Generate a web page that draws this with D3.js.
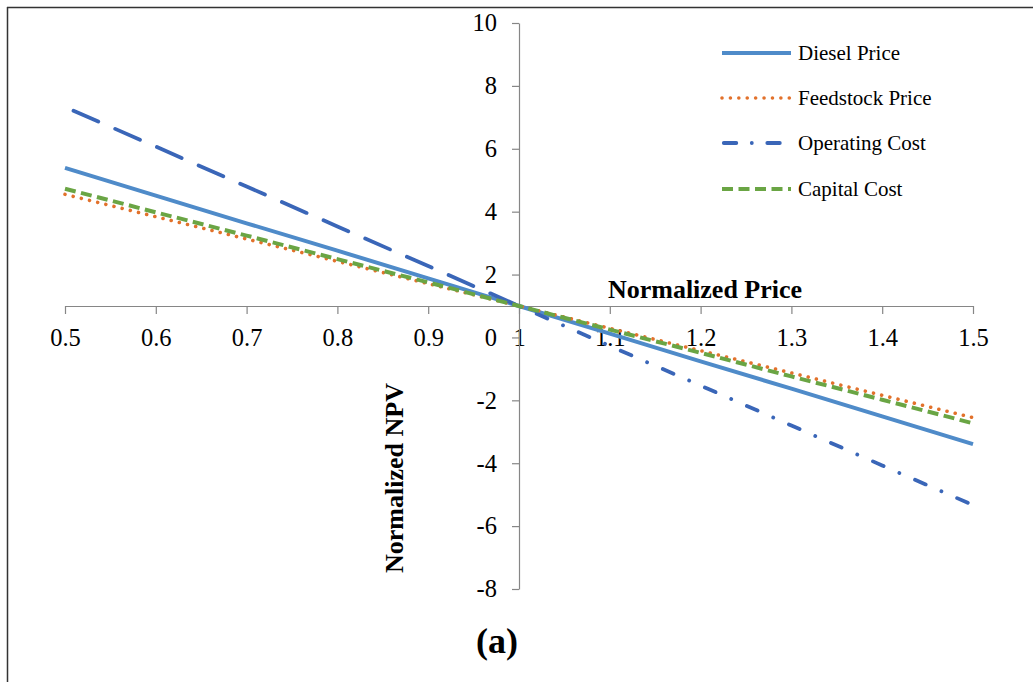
<!DOCTYPE html>
<html>
<head>
<meta charset="utf-8">
<script src="https://cdn.jsdelivr.net/npm/d3@7"></script>
<style>
  html, body { margin: 0; padding: 0; background: #fff; }
  svg { display: block; }
  text { font-family: "Liberation Serif", "Times New Roman", serif; fill: #000; }
</style>
</head>
<body>
<script>
// ---- data ----
const xValues = [0.5, 0.6, 0.7, 0.8, 0.9, 1.0, 1.1, 1.2, 1.3, 1.4, 1.5];
const xTickLabels = ["0.5", "0.6", "0.7", "0.8", "0.9", "1", "1.1", "1.2", "1.3", "1.4", "1.5"];
const yTickValues = [-8, -6, -4, -2, 0, 2, 4, 6, 8, 10];
const yTickLabels = ["-8", "-6", "-4", "-2", "0", "2", "4", "6", "8", "10"];
const seriesNames = ["Diesel Price", "Feedstock Price", "Operating Cost", "Capital Cost"];
const dieselPrice    = [5.39, 4.51, 3.63, 2.76, 1.88, 1.0, 0.12, -0.76, -1.63, -2.51, -3.39];
const feedstockPrice = [4.55, 3.84, 3.13, 2.42, 1.71, 1.0, 0.29, -0.42, -1.13, -1.84, -2.55];
const operatingCost  = [7.33, 6.07, 4.80, 3.53, 2.27, 1.0, -0.27, -1.53, -2.80, -4.07, -5.33];
const capitalCost    = [4.73, 3.98, 3.24, 2.49, 1.75, 1.0, 0.25, -0.49, -1.24, -1.98, -2.73];

const W = 1033, H = 682;
const svg = d3.select("body").append("svg").attr("width", W).attr("height", H);

// frame (left + top)
svg.append("line").attr("x1", 7.5).attr("y1", 7).attr("x2", 7.5).attr("y2", H).attr("stroke", "#333").attr("stroke-width", 1.5);
svg.append("line").attr("x1", 7).attr("y1", 7.5).attr("x2", W).attr("y2", 7.5).attr("stroke", "#333").attr("stroke-width", 1.5);

const x = d3.scaleLinear().domain([0.5, 1.5]).range([65, 973]);
const y = d3.scaleLinear().domain([-8, 10]).range([589, 23]);

const axisColor = "#868686";

// x axis crossing at y = 1
const xAxis = svg.append("g")
  .attr("transform", `translate(0,${y(1)})`)
  .call(d3.axisBottom(x).tickValues(xValues).tickSize(8).tickSizeOuter(0).tickPadding(15)
    .tickFormat((d, i) => xTickLabels[i]));
// y axis crossing at x = 1
const yAxis = svg.append("g")
  .attr("transform", `translate(${x(1)},0)`)
  .call(d3.axisLeft(y).tickValues(yTickValues).tickSize(7).tickSizeOuter(0).tickPadding(15)
    .tickFormat((d, i) => yTickLabels[i]));

[xAxis, yAxis].forEach(g => {
  g.selectAll("path.domain").attr("stroke", axisColor).attr("stroke-width", 1.2);
  g.selectAll(".tick line").attr("stroke", axisColor).attr("stroke-width", 1.2);
  g.selectAll(".tick text").style("font-family", '"Liberation Serif", serif').style("font-size", "24.5px").attr("fill", "#000");
});

// series styles
const styles = [
  { color: "#4F8BC9", width: 4, dash: null, cap: "butt" },
  { color: "#E2712B", width: 3.6, dash: "0.01,8.4", cap: "round" },
  { color: "#3A66B8", width: 3.8, dash: "11.6,17.15,0.01,17.15", cap: "round" },
  { color: "#6AA544", width: 4, dash: "11,5.5", cap: "butt" }
];
const seriesData = [dieselPrice, feedstockPrice, operatingCost, capitalCost];

const line = d3.line().x(d => x(d[0])).y(d => y(d[1]));
const plot = svg.append("g");

seriesData.forEach((vals, si) => {
  const pts = xValues.map((xv, i) => [xv, vals[i]]);
  const st = styles[si];
  if (si === 2) {
    // operating cost: long dash on left half, dash-dot on right half
    const left = pts.filter(p => p[0] <= 1.0);
    const right = pts.filter(p => p[0] >= 1.0);
    plot.append("path").attr("d", line(left)).attr("fill", "none")
      .attr("stroke", st.color).attr("stroke-width", st.width)
      .attr("stroke-linecap", "round").attr("stroke-dasharray", "27,18.5")
      .attr("stroke-dashoffset", 36.2);
    plot.append("path").attr("d", line(right)).attr("fill", "none")
      .attr("stroke", st.color).attr("stroke-width", st.width)
      .attr("stroke-linecap", "round").attr("stroke-dasharray", st.dash)
      .attr("stroke-dashoffset", 26.6);
  } else {
    const p = plot.append("path").attr("d", line(pts)).attr("fill", "none")
      .attr("stroke", st.color).attr("stroke-width", st.width)
      .attr("stroke-linecap", st.cap);
    if (st.dash) p.attr("stroke-dasharray", st.dash);
  }
});

// legend
const legendY = [53, 98, 143, 189];
const lg = svg.append("g");
seriesNames.forEach((name, i) => {
  const st = styles[i];
  const l = lg.append("line").attr("x1", 722).attr("x2", 791)
    .attr("y1", legendY[i]).attr("y2", legendY[i])
    .attr("stroke", st.color).attr("stroke-width", st.width).attr("stroke-linecap", st.cap);
  if (i === 2) l.attr("stroke-dasharray", "12.5,15.5,0.01,15.5").attr("stroke-linecap", "round").attr("x1", 723.8).attr("x2", 785);
  else if (st.dash) l.attr("stroke-dasharray", st.dash);
  lg.append("text").attr("x", 798).attr("y", legendY[i]).attr("dy", "0.33em")
    .style("font-size", "21px").text(name);
});

// axis titles
svg.append("text").attr("x", 705).attr("y", 298).attr("text-anchor", "middle")
  .style("font-size", "26px").style("font-weight", "bold").text("Normalized Price");
svg.append("text").attr("transform", "translate(403,478) rotate(-90)").attr("text-anchor", "middle")
  .style("font-size", "26px").style("font-weight", "bold").text("Normalized NPV");

// caption
svg.append("text").attr("x", 497).attr("y", 653).attr("text-anchor", "middle")
  .style("font-size", "36px").style("font-weight", "bold").text("(a)");
</script>
</body>
</html>
